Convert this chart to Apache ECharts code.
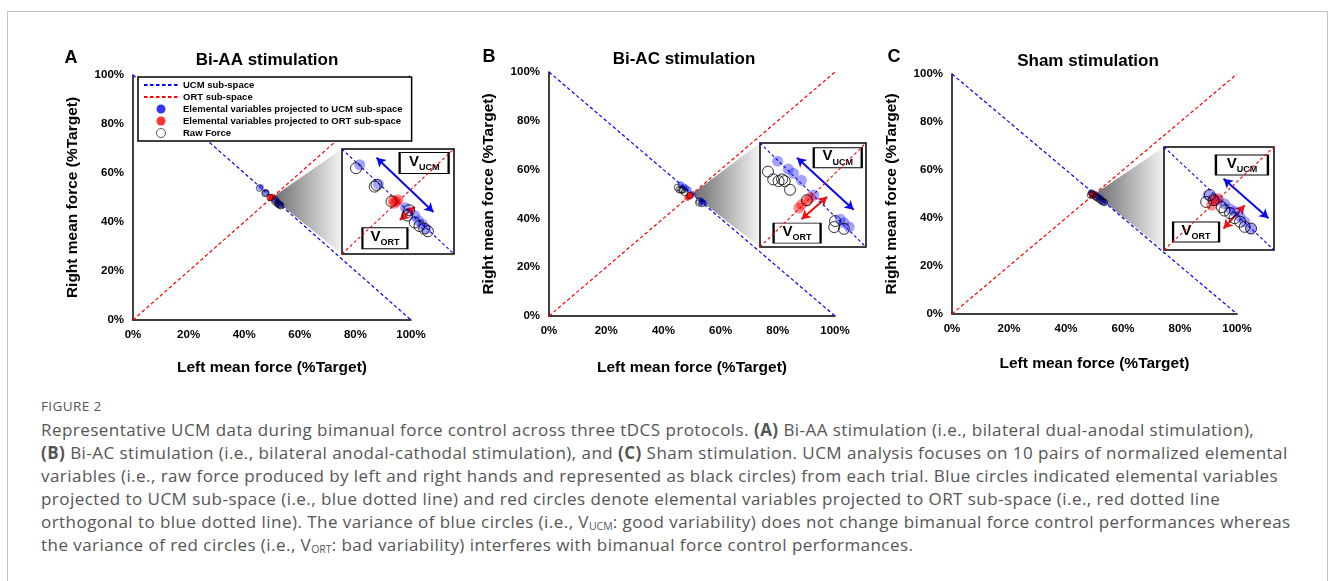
<!DOCTYPE html>
<html><head><meta charset="utf-8">
<script src="https://cdn.jsdelivr.net/npm/echarts@6/dist/echarts.min.js"></script>
<style>
html,body{margin:0;padding:0;background:#fff;width:1331px;height:581px;overflow:hidden;}
#frame{position:absolute;left:7px;top:11px;width:1321px;height:640px;border:1px solid #c4c4c4;box-sizing:border-box;}
#chart{position:absolute;left:0;top:0;width:1331px;height:392px;}
#cap{position:absolute;left:41px;top:395px;font-family:'Open Sans','Noto Sans',sans-serif;color:#555;}
#cap .fig{font-size:13.5px;line-height:23px;letter-spacing:0.4px;}
#cap .ln{font-size:17px;line-height:23px;white-space:nowrap;}
#cap .ln span{display:inline-block;}
#cap sub{font-size:10.5px;vertical-align:-2px;line-height:0;letter-spacing:0;}
</style></head>
<body>
<div id="frame"></div>
<div id="chart"></div>
<div id="cap"><div class="fig">FIGURE 2</div>
<div class="ln"><span>Representative UCM data during bimanual force control across three tDCS protocols. <b>(A)</b> Bi-AA stimulation (i.e., bilateral dual-anodal stimulation),</span></div>
<div class="ln"><span><b>(B)</b> Bi-AC stimulation (i.e., bilateral anodal-cathodal stimulation), and <b>(C)</b> Sham stimulation. UCM analysis focuses on 10 pairs of normalized elemental</span></div>
<div class="ln"><span>variables (i.e., raw force produced by left and right hands and represented as black circles) from each trial. Blue circles indicated elemental variables</span></div>
<div class="ln"><span>projected to UCM sub-space (i.e., blue dotted line) and red circles denote elemental variables projected to ORT sub-space (i.e., red dotted line</span></div>
<div class="ln"><span id="widest">orthogonal to blue dotted line). The variance of blue circles (i.e., V<sub>UCM</sub>: good variability) does not change bimanual force control performances whereas</span></div>
<div class="ln"><span>the variance of red circles (i.e., V<sub>ORT</sub>: bad variability) interferes with bimanual force control performances.</span></div>
</div>
<script>
// ---- data ----
const tickValues = [0, 20, 40, 60, 80, 100];
const panelLetters = ['A', 'B', 'C'];
const panelTitles = ['Bi-AA stimulation', 'Bi-AC stimulation', 'Sham stimulation'];
const xAxisName = 'Left mean force (%Target)';
const yAxisName = 'Right mean force (%Target)';
const seriesNames = ['UCM sub-space', 'ORT sub-space', 'Elemental variables projected to UCM sub-space', 'Elemental variables projected to ORT sub-space', 'Raw Force'];
const ucmLine = [[0, 100], [100, 0]];
const ortLine = [[0, 0], [100, 100]];
const zoomRange = [44, 56];
const insetUcmLine = [[44, 56], [56, 44]];
const insetOrtLine = [[44, 44], [56, 56]];

// Panel A (Bi-AA)
const blueA = [[45.9, 54.2], [47.9, 52.0], [50.8, 49.3], [51.8, 48.4], [52.2, 47.8], [52.6, 47.4], [53.0, 46.9]];
const redA = [[49.5, 50.1], [49.8, 50.0], [49.6, 49.8], [50.0, 50.2]];
const rawA = [[45.5, 53.8], [47.5, 51.7], [47.7, 51.9], [49.3, 50.0], [51.0, 48.4], [51.2, 49.0], [51.8, 47.6], [52.3, 47.2], [52.8, 46.9], [53.2, 46.6]];
// Panel B (Bi-AC)
const blueB = [[46.0, 53.9], [47.2, 53.0], [47.8, 52.5], [48.7, 51.7], [50.1, 50.0], [53.1, 47.2], [53.5, 46.8], [54.1, 46.3]];
const redB = [[49.3, 49.3], [48.7, 48.9], [48.4, 48.5], [49.7, 49.7]];
const rawB = [[44.9, 52.7], [45.5, 51.8], [46.1, 51.6], [46.5, 51.8], [46.8, 51.6], [47.4, 50.6], [49.3, 49.4], [52.5, 47.0], [52.4, 46.3], [53.5, 46.1]];
// Panel C (Sham)
const blueC = [[48.8, 50.4], [49.4, 50.0], [49.9, 49.8], [50.6, 49.4], [51.2, 48.8], [51.7, 48.5], [52.3, 47.9], [52.8, 47.3], [53.5, 46.5]];
const redC = [[49.5, 49.8], [49.2, 49.2], [49.9, 50.0]];
const rawC = [[49.0, 50.4], [49.4, 49.8], [48.6, 49.6], [50.3, 49.0], [50.6, 48.6], [51.2, 48.3], [51.7, 47.7], [52.3, 47.3], [52.8, 46.7], [53.5, 46.5]];

// annotation anchors (inset data coordinates)
const ucmArrows = [[[47.7, 55.0], [53.8, 48.8]], [[48.2, 54.3], [54.6, 48.3]], [[50.5, 52.3], [55.4, 47.7]]];
const ortArrows = [[[50.2, 47.9], [51.8, 49.4]], [[48.7, 47.2], [51.6, 49.8]], [[50.5, 46.5], [52.8, 49.2]]];
const ucmLabelAt = [[52.8, 54.4], [52.8, 54.3], [52.5, 53.9]];
const ortLabelAt = [[48.6, 45.8], [48.2, 45.6], [47.5, 46.1]];
const zoomApex = [50, 50];

// ---- layout / style ----
const FONT = 'Arial, "Liberation Sans", sans-serif';
const mainGrids = [
  {left: 133, top: 75, width: 278, height: 245},
  {left: 549, top: 72, width: 286, height: 244},
  {left: 952, top: 74, width: 285, height: 240}
];
const insetGrids = [
  {left: 342, top: 149, width: 112, height: 105},
  {left: 760, top: 143, width: 106, height: 104},
  {left: 1164, top: 147, width: 110, height: 103}
];
const xNameGaps = [40, 44, 42];
const letterPos = [[71, 58], [489, 57], [894, 57]];
const titlePos = [[267, 60], [684, 59], [1088, 61]];
const labelBoxes = [[[49, 21], [45, 21]], [[48, 20], [47, 20]], [[52, 20], [46, 20]]];

const blues = [blueA, blueB, blueC], reds = [redA, redB, redC], raws = [rawA, rawB, rawC];
const BLUE = '#0000ff', RED = '#ff0000';

const grids = [], xAxes = [], yAxes = [], series = [];
for (let i = 0; i < 3; i++) {
  const m = 2 * i, n = 2 * i + 1;
  grids.push(Object.assign({show: false, outerBoundsMode: 'none'}, mainGrids[i]));
  grids.push(Object.assign({show: true, borderColor: '#000', borderWidth: 1.5, backgroundColor: '#fff', z: 3, outerBoundsMode: 'none'}, insetGrids[i]));
  const axisCommon = {
    type: 'value', min: tickValues[0], max: tickValues[tickValues.length - 1], interval: tickValues[1] - tickValues[0],
    axisLine: {show: true, onZero: false, lineStyle: {color: '#000', width: 1.5}},
    axisTick: {show: false}, splitLine: {show: false},
    axisLabel: {formatter: v => v + '%', fontWeight: 'bold', fontSize: 11.5, color: '#000', fontFamily: FONT, margin: 9},
    nameLocation: 'middle',
    nameTextStyle: {fontWeight: 'bold', fontSize: 15.5, color: '#000', fontFamily: FONT}
  };
  xAxes.push(Object.assign({}, axisCommon, {gridIndex: m, name: xAxisName, nameGap: xNameGaps[i]}));
  yAxes.push(Object.assign({}, axisCommon, {gridIndex: m, name: yAxisName, nameGap: 52}));
  const insetAxis = {type: 'value', min: zoomRange[0], max: zoomRange[1], show: false, splitLine: {show: false}};
  xAxes.push(Object.assign({gridIndex: n}, insetAxis));
  yAxes.push(Object.assign({gridIndex: n}, insetAxis));

  // main plot
  series.push({name: seriesNames[0], type: 'line', xAxisIndex: m, yAxisIndex: m, data: ucmLine, symbol: 'none', showSymbol: false, silent: true, z: 2,
    itemStyle: {color: BLUE}, lineStyle: {color: BLUE, width: 1.2, type: [3.5, 2.5]}});
  series.push({name: seriesNames[1], type: 'line', xAxisIndex: m, yAxisIndex: m, data: ortLine, symbol: 'none', showSymbol: false, silent: true, z: 2,
    itemStyle: {color: RED}, lineStyle: {color: RED, width: 1.2, type: [3.5, 2.5]}});
  series.push({name: seriesNames[2], type: 'scatter', xAxisIndex: m, yAxisIndex: m, data: blues[i], symbolSize: 6.5, z: 3,
    itemStyle: {color: 'rgba(0,0,255,0.6)'}});
  series.push({name: seriesNames[3], type: 'scatter', xAxisIndex: m, yAxisIndex: m, data: reds[i], symbolSize: 6.5, z: 3,
    itemStyle: {color: 'rgba(255,0,0,0.65)'}});
  series.push({name: seriesNames[4], type: 'scatter', xAxisIndex: m, yAxisIndex: m, data: raws[i], symbolSize: 6.5, z: 4, symbol: 'circle',
    itemStyle: {color: 'rgba(0,0,0,0)', borderColor: '#000', borderWidth: 0.8}});

  // inset
  series.push({name: seriesNames[0], type: 'line', xAxisIndex: n, yAxisIndex: n, data: insetUcmLine, symbol: 'none', showSymbol: false, silent: true, z: 5,
    itemStyle: {color: BLUE}, lineStyle: {color: BLUE, width: 1.1, type: [3, 2.5]},
    markLine: {silent: true, symbol: ['arrow', 'arrow'], symbolSize: [8, 9], label: {show: false}, animation: false,
      lineStyle: {color: '#0a0ae6', width: 2, type: 'solid'},
      data: [[{coord: ucmArrows[i][0]}, {coord: ucmArrows[i][1]}]]}});
  series.push({name: seriesNames[1], type: 'line', xAxisIndex: n, yAxisIndex: n, data: insetOrtLine, symbol: 'none', showSymbol: false, silent: true, z: 5,
    itemStyle: {color: RED}, lineStyle: {color: RED, width: 1.1, type: [3, 2.5]},
    markLine: {silent: true, symbol: ['arrow', 'arrow'], symbolSize: [8, 9], label: {show: false}, animation: false,
      lineStyle: {color: '#f01010', width: 2, type: 'solid'},
      data: [[{coord: ortArrows[i][0]}, {coord: ortArrows[i][1]}]]}});
  series.push({name: seriesNames[2], type: 'scatter', xAxisIndex: n, yAxisIndex: n, data: blues[i], symbolSize: 11, z: 6,
    itemStyle: {color: 'rgba(0,0,255,0.45)'}});
  series.push({name: seriesNames[3], type: 'scatter', xAxisIndex: n, yAxisIndex: n, data: reds[i], symbolSize: 11, z: 6,
    itemStyle: {color: 'rgba(255,0,0,0.55)'}});
  const rich = {
    v: {fontSize: 15, fontWeight: 'bold', fontFamily: FONT, color: '#000', lineHeight: 18, verticalAlign: 'top'},
    s: {fontSize: 9, fontWeight: 'bold', fontFamily: FONT, color: '#000', lineHeight: 9, verticalAlign: 'bottom'}
  };
  series.push({name: seriesNames[4], type: 'scatter', xAxisIndex: n, yAxisIndex: n, data: raws[i], symbolSize: 11, z: 7, symbol: 'circle',
    itemStyle: {color: 'rgba(0,0,0,0)', borderColor: '#000', borderWidth: 1},
    markPoint: {silent: true, symbol: 'rect', animation: false,
      itemStyle: {color: '#fff', borderColor: '#000', borderWidth: 1.5},
      label: {show: true, position: 'inside', rich: rich},
      data: [
        {coord: ucmLabelAt[i], symbolSize: labelBoxes[i][0], label: {formatter: '{v|V}{s|UCM}'}},
        {coord: ortLabelAt[i], symbolSize: labelBoxes[i][1], label: {formatter: '{v|V}{s|ORT}'}}
      ]}});
}

const chart = echarts.init(document.getElementById('chart'), null, {renderer: 'canvas'});
chart.setOption({
  animation: false,
  backgroundColor: 'transparent',
  grid: grids, xAxis: xAxes, yAxis: yAxes, series: series,
  legend: {
    data: [
      {name: seriesNames[0], itemStyle: {color: 'rgba(0,0,0,0)', borderWidth: 0, opacity: 0}},
      {name: seriesNames[1], itemStyle: {color: 'rgba(0,0,0,0)', borderWidth: 0, opacity: 0}},
      {name: seriesNames[2], itemStyle: {color: '#0000ff'}},
      {name: seriesNames[3], itemStyle: {color: '#ff0000'}},
      {name: seriesNames[4], itemStyle: {color: '#ffffff', borderColor: '#000', borderWidth: 0.8}}
    ],
    orient: 'vertical', left: 138, top: 77, selectedMode: false,
    backgroundColor: '#fff', borderColor: '#000', borderWidth: 1.5, borderRadius: 0,
    padding: [3, 9, 3, 5], itemWidth: 34, itemHeight: 9, itemGap: 2,
    textStyle: {fontSize: 9.5, fontWeight: 'bold', fontFamily: FONT, color: '#000'}
  }
});

// zoom wedges + texts, positioned through the grids' scales
const graphics = [];
for (let i = 0; i < 3; i++) {
  const apex = chart.convertToPixel({gridIndex: 2 * i}, zoomApex);
  const tl = chart.convertToPixel({gridIndex: 2 * i + 1}, [zoomRange[0], zoomRange[1]]);
  const bl = chart.convertToPixel({gridIndex: 2 * i + 1}, [zoomRange[0], zoomRange[0]]);
  graphics.push({type: 'polygon', z: 1, silent: true, shape: {points: [apex, tl, bl]},
    style: {fill: new echarts.graphic.LinearGradient(0, 0, 1, 0, [{offset: 0, color: '#6a6a6a'}, {offset: 1, color: '#f4f4f4'}])}});
  graphics.push({type: 'text', x: letterPos[i][0], y: letterPos[i][1], silent: true,
    style: {text: panelLetters[i], fontSize: 18, fontWeight: 'bold', fontFamily: FONT, fill: '#000', align: 'center', verticalAlign: 'middle'}});
  graphics.push({type: 'text', x: titlePos[i][0], y: titlePos[i][1], silent: true,
    style: {text: panelTitles[i], fontSize: 17, fontWeight: 'bold', fontFamily: FONT, fill: '#000', align: 'center', verticalAlign: 'middle'}});
}
chart.setOption({graphic: graphics});

// caption: fit the widest line to the reference measure (ends near x=1292)
(function fitCaption() {
  const target = 1251;
  const w = document.getElementById('widest');
  const txt = w.textContent.length;
  const cur = w.getBoundingClientRect().width;
  const ls = (target - cur) / txt;
  document.querySelectorAll('#cap .ln').forEach(el => { el.style.letterSpacing = ls.toFixed(3) + 'px'; });
})();
</script>
</body></html>
